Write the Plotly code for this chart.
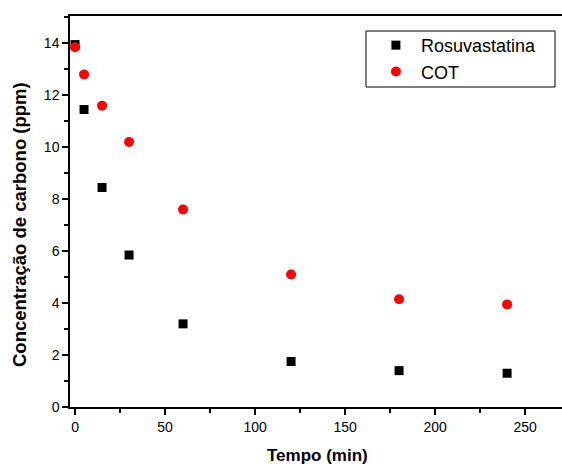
import plotly.graph_objects as go

tempo = [0, 5, 15, 30, 60, 120, 180, 240]
rosuvastatina = [13.95, 11.45, 8.45, 5.85, 3.2, 1.75, 1.4, 1.3]
cot = [13.85, 12.8, 11.6, 10.2, 7.6, 5.1, 4.15, 3.95]

FONT = "Liberation Sans, Arial, sans-serif"

fig = go.Figure()
fig.add_trace(go.Scatter(x=tempo, y=rosuvastatina, mode="markers", name="Rosuvastatina",
                         marker=dict(symbol="square", size=9, color="black")))
fig.add_trace(go.Scatter(x=tempo, y=cot, mode="markers", name="COT",
                         marker=dict(symbol="circle", size=10, color="#ff0000")))

fig.update_layout(
    width=562, height=466,
    margin=dict(l=70, r=0, t=16, b=59, autoexpand=False),
    paper_bgcolor="white", plot_bgcolor="white",
    font=dict(family=FONT, color="black", size=14),
    showlegend=True,
    legend=dict(x=0.6116, y=0.972, xanchor="left", yanchor="top",
                bgcolor="rgba(0,0,0,0)", borderwidth=0,
                font=dict(size=18, family=FONT), tracegroupgap=0,
                itemwidth=40),
    xaxis=dict(range=[-2.8, 270.5], showgrid=False, zeroline=False,
               showline=True, linecolor="black", linewidth=1.5, mirror=True,
               ticks="outside", ticklen=6, tickwidth=1.5, tickcolor="black",
               dtick=50, tick0=0,
               minor=dict(dtick=25, ticks="outside", ticklen=4, tickcolor="black", tickwidth=1.5)),
    yaxis=dict(range=[0, 15.05], showgrid=False, zeroline=False,
               showline=True, linecolor="black", linewidth=1.5,
               ticks="outside", ticklen=6, tickwidth=1.5, tickcolor="black",
               dtick=2, tick0=0,
               minor=dict(dtick=1, ticks="outside", ticklen=4, tickcolor="black", tickwidth=1.5)),
    shapes=[dict(type="rect", xref="paper", yref="paper",
                 x0=0.6016, x1=0.9858, y0=0.8184, y1=0.9616,
                 line=dict(color="black", width=1), fillcolor="rgba(0,0,0,0)", layer="below")],
    annotations=[
        dict(text="<b>Tempo (min)</b>", xref="paper", yref="paper", x=0.504, y=-0.125,
             xanchor="center", yanchor="middle", showarrow=False, font=dict(size=17, family=FONT)),
        dict(text="<b>Concentração de carbono (ppm)</b>", xref="paper", yref="paper",
             x=-0.1016, y=0.4655, xanchor="center", yanchor="middle", textangle=-90,
             showarrow=False, font=dict(size=18.5, family=FONT)),
    ],
)

fig.write_html("out.html", config={"displayModeBar": False},
               post_script="document.body.style.margin='0';document.body.style.overflow='hidden';")
